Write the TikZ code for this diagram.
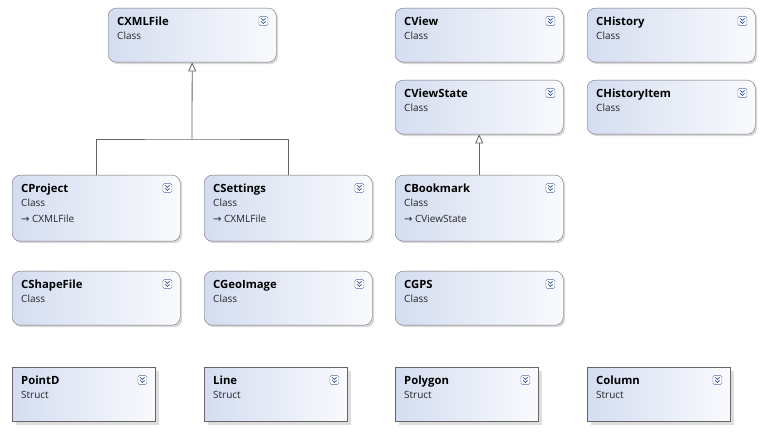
\documentclass[tikz,border=0pt]{standalone}
\usepackage{fontspec}
\setmainfont{Open Sans}
\newfontfamily\symfont{DejaVu Sans}
\usetikzlibrary{arrows.meta,shadows}
\definecolor{boxleft}{RGB}{212,221,240}
\definecolor{boxright}{RGB}{249,250,253}
\definecolor{boxline}{RGB}{112,112,112}
\definecolor{linkline}{RGB}{100,100,100}
\definecolor{iconblue}{RGB}{60,90,150}
\tikzset{
classbox/.style={draw=boxline,rounded corners=8pt,left color=boxleft,right color=boxright,minimum width=168pt,minimum height=54pt,anchor=north west,inner sep=0pt,drop shadow={shadow xshift=2pt,shadow yshift=-2pt,fill=black!25,opacity=0.6}},
structbox/.style={draw=boxline!90!black,sharp corners,left color=boxleft,right color=boxright,minimum width=143pt,minimum height=54pt,anchor=north west,inner sep=0pt,drop shadow={shadow xshift=4pt,shadow yshift=-4pt,fill=black!22,opacity=0.6}},
nametext/.style={anchor=base west,inner sep=0pt,font=\bfseries\fontsize{11.3}{13}\selectfont},
kindtext/.style={anchor=base west,inner sep=0pt,text=black!85,font=\fontsize{10}{12}\selectfont},
inherit/.style={draw=linkline,line width=0.8pt,-{Triangle[open,width=8pt,length=9pt]}},
expander/.pic={\draw[draw=iconblue!60,fill=white,rounded corners=1.5pt,line width=0.6pt](-4.5,-4.5) rectangle (4.5,4.5);
\draw[iconblue,line width=0.8pt](-2.2,-2.6)--(0,-0.6)--(2.2,-2.6) (-2.2,0.4)--(0,2.4)--(2.2,0.4);}
}
\begin{document}
\begin{tikzpicture}[x=1pt,y=-1pt]
\useasboundingbox (0,0) rectangle (769,435);
% plain classes
\foreach \nm/\px/\py in {CXMLFile/108/8,CView/395/8,CHistory/587/8,CViewState/395/80,CHistoryItem/587/80,CShapeFile/12/271,CGeoImage/204/271,CGPS/395/271}{
\node[classbox] (\nm) at (\px,\py){};
\node[nametext] (\nm-name) at ([shift={(9,17.5)}]\nm.north west){\nm};
\node[kindtext] (\nm-kind) at ([shift={(9,31.5)}]\nm.north west){Class};
\pic at ([shift={(-13,13)}]\nm.north east){expander};
}
% derived classes
\foreach \nm/\px/\py/\bs in {CProject/12/175/CXMLFile,CSettings/204/175/CXMLFile,CBookmark/395/175/CViewState}{
\node[classbox,minimum height=66pt] (\nm) at (\px,\py){};
\node[nametext] (\nm-name) at ([shift={(9,17.5)}]\nm.north west){\nm};
\node[kindtext] (\nm-kind) at ([shift={(9,31.5)}]\nm.north west){Class};
\node[kindtext] (\nm-base) at ([shift={(9,48)}]\nm.north west){{\symfont\fontsize{10}{12}\selectfont→}\hspace{2.5pt}\bs};
\pic at ([shift={(-13,13)}]\nm.north east){expander};
}
% structs
\foreach \nm/\px in {PointD/12,Line/204,Polygon/395,Column/587}{
\node[structbox] (\nm) at (\px,367){};
\node[nametext] (\nm-name) at ([shift={(9,17.5)}]\nm.north west){\nm};
\node[kindtext] (\nm-kind) at ([shift={(9,31.5)}]\nm.north west){Struct};
\pic at ([shift={(-13,13)}]\nm.north east){expander};
}
\coordinate (bus) at (192,139);
\draw[draw=linkline,line width=0.8pt](CProject.north)|-(bus)-|(CSettings.north);
\draw[inherit](bus)--(CXMLFile.south);
\draw[inherit](CBookmark.north)--(CViewState.south);
\end{tikzpicture}
\end{document}
